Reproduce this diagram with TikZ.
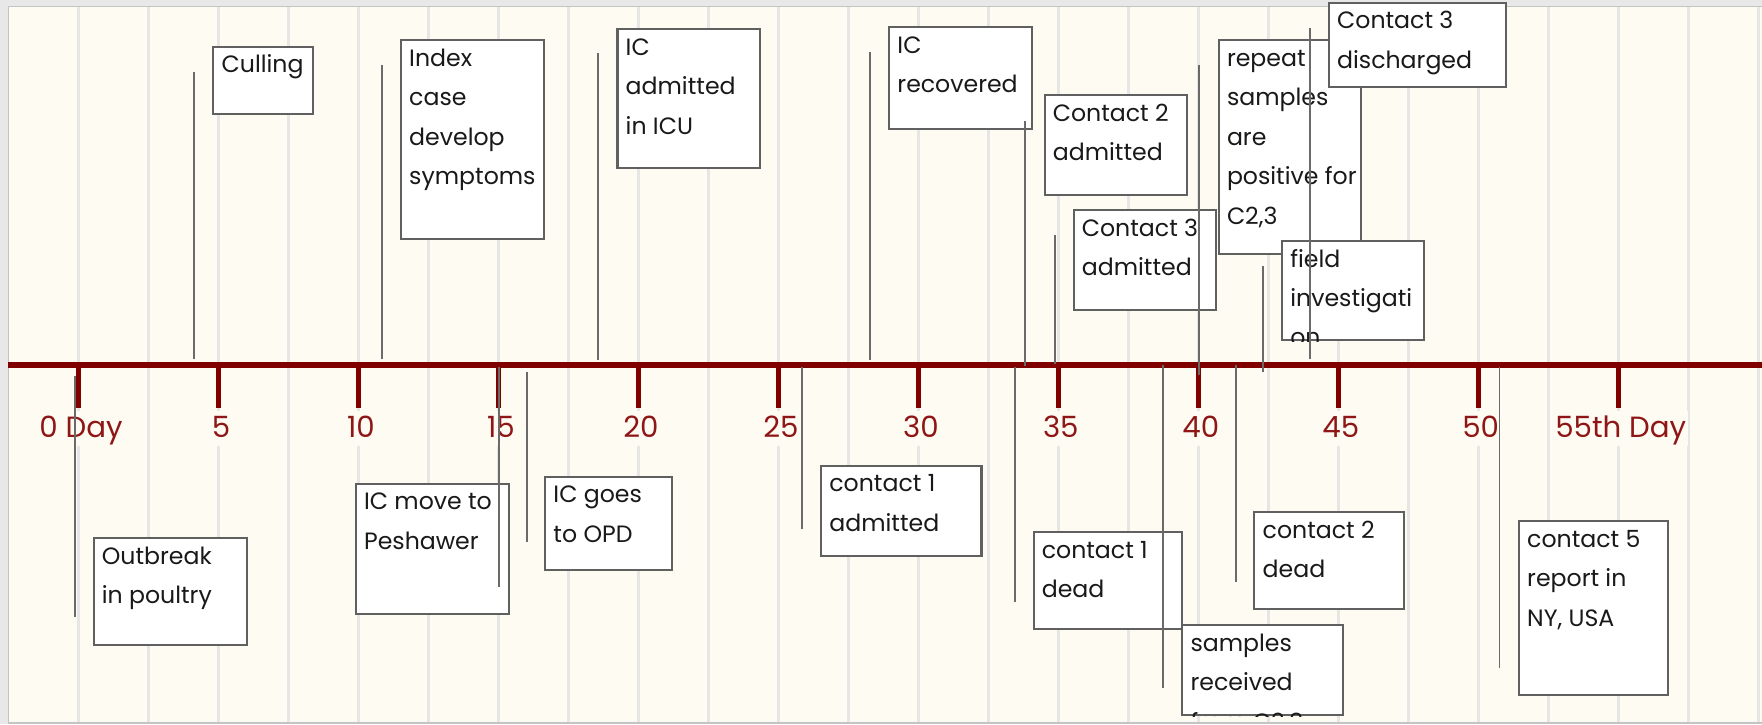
\documentclass[tikz,border=0pt]{standalone}
\usepackage{fontspec}
\setmainfont{Poppins}
\usetikzlibrary{calc}
\definecolor{bgcream}{HTML}{FEFBF3}
\definecolor{framegray}{HTML}{E8E8E8}
\definecolor{frameline}{HTML}{C4C4C4}
\definecolor{gridgray}{HTML}{E6E6E6}
\definecolor{axisred}{HTML}{800000}
\definecolor{labelred}{HTML}{8E1616}
\definecolor{boxline}{HTML}{606060}
\definecolor{connline}{HTML}{6A6A6A}
\newcommand{\EvBox}[6]{%
  \node[evbox, anchor=north west, minimum width={#4-#2}, minimum height={#5-#3}] (#1) at (#2,#3) {};
  \begin{scope}
    \clip (#1.south west) rectangle (#1.north east);
    \node[evtext] (#1-t) at ($(#1.north west)+(8,0)$) {\rule{0pt}{24pt}#6};
  \end{scope}}
\newcommand{\Conn}[4]{%
  \coordinate (#1-a) at (#2,#3);
  \coordinate (#1-b) at (#2,#4);
  \draw[conn] (#1-a) -- (#1-b);}
\begin{document}
\begin{tikzpicture}[x=1pt,y=-1pt,
  evbox/.style={draw=boxline, line width=1.8pt, fill=white, inner sep=0pt},
  evtext/.style={anchor=north west, inner sep=0pt, align=left, font=\fontsize{21}{35}\selectfont, text=black!90},
  conn/.style={draw=connline, line width=1.7pt},
  daylabel/.style={anchor=base, font=\fontsize{26}{30}\selectfont, text=labelred, fill=bgcream, text height=20pt, text depth=5pt, inner xsep=2pt, inner ysep=3pt},
  gridline/.style={draw=gridgray, line width=2.4pt},
  tickmark/.style={draw=axisred, line width=4.8pt},
  axisline/.style={draw=axisred, line width=6pt}]
\useasboundingbox (0,0) rectangle (1566,643.5);
% background and frame
\fill[framegray] (0,0) rectangle (1566,643.5);
\path[fill=bgcream, draw=frameline, line width=1.6pt] (7.5,5.8) rectangle (1575,642.6);
% grid
\foreach \k in {0,...,24} {
  \draw[gridline] ({70+62.2*\k},6.6) -- ({70+62.2*\k},641.8);
}
% axis
\coordinate (axis-start) at (7,324.5);
\coordinate (axis-end) at (1566,324.5);
\draw[axisline] (axis-start) -- (axis-end);
\foreach \d/\lab in {0/0 Day,5/5,10/10,15/15,20/20,25/25,30/30,35/35,40/40,45/45,50/50,55/55th Day} {
  \coordinate (tick\d-a) at ({70+24.88*\d},324.5);
  \coordinate (tick\d-b) at ({70+24.88*\d},363);
  \draw[tickmark] (tick\d-a) -- (tick\d-b);
  \node[daylabel] (lab\d) at ({72+24.88*\d},388.7) {\lab};
}
% event boxes (above)
\EvBox{cull}{188.8}{40.6}{277.2}{100.2}{Culling}
\EvBox{index}{355.5}{34.7}{482.4}{211.6}{Index\\case\\develop\\symptoms}
\EvBox{icu}{547.9}{25.2}{674.8}{148.7}{IC\\admitted\\in ICU}
\EvBox{icrec}{789.4}{23.1}{915.9}{113.5}{IC\\recovered}
\EvBox{ctwo}{927.5}{83.8}{1054}{172.4}{Contact 2\\admitted}
\EvBox{cthree}{953.3}{185.8}{1079.9}{274.4}{Contact 3\\admitted}
\EvBox{repeat}{1082.3}{34.9}{1208.5}{224.6}{repeat\\samples\\are\\positive for\\C2,3}
\EvBox{field}{1138.6}{213.3}{1264.9}{301.6}{field\\investigati\\on}
\EvBox{disch}{1180.2}{1.5}{1337.2}{76.4}{Contact 3\\discharged}
% event boxes (below)
\EvBox{outb}{82.3}{477.6}{218.8}{572.2}{Outbreak\\in poultry}
\EvBox{move}{315.4}{429}{451.7}{544.6}{IC move to\\Peshawer}
\EvBox{opd}{483.7}{422.8}{596.5}{505.5}{IC goes\\to OPD}
\EvBox{conea}{728.9}{413}{871.4}{493.6}{contact 1\\admitted}
\EvBox{coned}{917.7}{472}{1049.9}{558.2}{contact 1\\dead}
\EvBox{samp}{1049.9}{554.7}{1192.5}{634.7}{samples\\received\\from C2,3}
\EvBox{ctwod}{1114}{454.2}{1247.1}{540.4}{contact 2\\dead}
\EvBox{cfive}{1349.1}{462.2}{1481.5}{617.2}{contact 5\\report in\\NY, USA}
% connectors
\Conn{c-cull}{172.5}{319.4}{63.7}
\Conn{c-index}{339.2}{319.4}{57.8}
\Conn{c-icu}{531.7}{320}{47.5}
\Conn{c-icrec}{773.1}{320}{45.9}
\Conn{c-ctwo}{911.1}{325.3}{107.3}
\Conn{c-cthree}{937.8}{323.6}{208.9}
\Conn{c-repeat}{1065.9}{333.3}{57.8}
\Conn{c-field}{1122.2}{331}{236.2}
\Conn{c-disch}{1164.2}{319.4}{24.6}
\Conn{c-outb}{66.3}{334.2}{548.7}
\Conn{c-move}{443.6}{326}{521.5}
\Conn{c-opd}{468.1}{330.4}{482}
\Conn{c-conea}{712.9}{326.5}{470.5}
\Conn{c-coned}{901.7}{326.5}{535.4}
\Conn{c-samp}{1034}{324.4}{611.8}
\Conn{c-ctwod}{1098.3}{324.4}{517.6}
\Conn{c-cfive}{1332.7}{326.5}{594}
\end{tikzpicture}
\end{document}
